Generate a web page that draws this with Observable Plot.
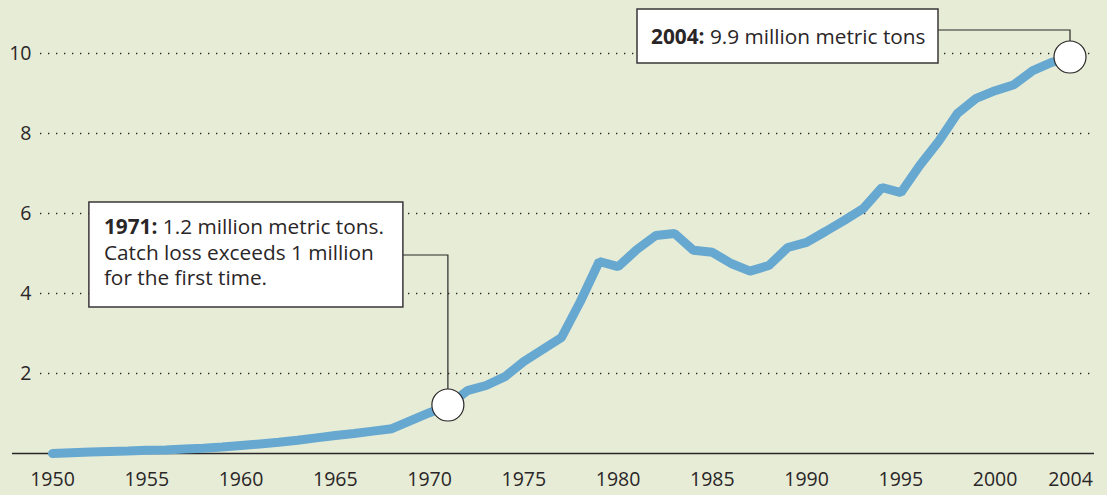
<!DOCTYPE html>
<html>
<head>
<meta charset="utf-8">
<script src="https://cdn.jsdelivr.net/npm/d3@7"></script>
<script src="https://cdn.jsdelivr.net/npm/@observablehq/plot@0.6"></script>
<style>
  html, body { margin: 0; padding: 0; background: #e7ecd7; }
  #chart { width: 1107px; height: 495px; }
  svg { font-family: "Open Sans", Lato, sans-serif; }
</style>
</head>
<body>
<div id="chart"></div>
<script>
const years = d3.range(1950, 2005);
const values = [
  0.00, 0.02, 0.04, 0.05, 0.06, 0.08, 0.09, 0.11, 0.13, 0.16,
  0.20, 0.24, 0.28, 0.33, 0.39, 0.45, 0.50, 0.56, 0.62, 0.82,
  1.02, 1.20, 1.57, 1.70, 1.92, 2.30, 2.60, 2.90, 3.80, 4.80,
  4.67, 5.10, 5.45, 5.50, 5.08, 5.03, 4.75, 4.56, 4.70, 5.15,
  5.28, 5.55, 5.83, 6.12, 6.65, 6.52, 7.20, 7.80, 8.50, 8.88,
  9.07, 9.22, 9.57, 9.78, 9.90
];
const xTicks = [1950, 1955, 1960, 1965, 1970, 1975, 1980, 1985, 1990, 1995, 2000, 2004];
const yTicks = [2, 4, 6, 8, 10];
const annotationYears = [1971, 2004];
const annotationBold = ["1971:", "2004:"];
const annotationLines = [
  [" 1.2 million metric tons.", "Catch loss exceeds 1 million", "for the first time."],
  [" 9.9 million metric tons"]
];

const data = years.map((y, i) => ({year: y, value: values[i]}));
const marks = annotationYears.map(y => data.find(d => d.year === y));

const ink = "#2a2627";
const font = "'Open Sans', Lato, sans-serif";
const plot = Plot.plot({
  width: 1107,
  height: 495,
  marginLeft: 52,
  marginRight: 37,
  marginTop: 53,
  marginBottom: 42,
  style: {background: "transparent", fontSize: "19.5px", fontFamily: font, color: ink},
  x: {domain: [1950, 2004], ticks: xTicks, tickFormat: d => String(d), label: null},
  y: {domain: [0, 10], ticks: yTicks, label: null},
  marks: [
    Plot.ruleY(yTicks, {stroke: ink, strokeWidth: 1.3, strokeDasharray: "1.3 6.7", insetLeft: -12, insetRight: -25}),
    Plot.ruleY([0], {stroke: ink, strokeWidth: 1.5, insetLeft: -40, insetRight: -24}),
    Plot.axisX({ticks: xTicks, tickSize: 0, tickPadding: 19, tickFormat: d => String(d), fontSize: 19.5, fill: ink}),
    Plot.axisY({ticks: yTicks, tickSize: 0, tickPadding: 21, fontSize: 19.5, fill: ink}),
    Plot.line(data, {x: "year", y: "value", stroke: "#67a8d0", strokeWidth: 9, strokeLinecap: "round", strokeLinejoin: "miter"})
  ]
});
document.getElementById("chart").appendChild(plot);

// annotations drawn with the library's scales
const sx = plot.scale("x"), sy = plot.scale("y");
const svg = d3.select(plot);
const boxes = [
  {dx1: -359, dx2: -45, dy1: -203, dy2: -98, elbow: -150, tx: -344, ty: -171},
  {dx1: -433, dx2: -132, dy1: -48, dy2: 6, elbow: -27, tx: -419, ty: -13}
];
const g = svg.append("g").attr("text-anchor", "start");
marks.forEach((m, i) => {
  const px = sx.apply(m.year), py = sy.apply(m.value);
  const b = boxes[i];
  const r = 16;
  g.append("path")
    .attr("d", `M${px + b.dx2},${py + b.elbow}H${px}V${py - r}`)
    .attr("fill", "none").attr("stroke", ink).attr("stroke-width", 1.2);
  g.append("rect")
    .attr("x", px + b.dx1).attr("y", py + b.dy1)
    .attr("width", b.dx2 - b.dx1).attr("height", b.dy2 - b.dy1)
    .attr("fill", "white").attr("stroke", "#3a3637").attr("stroke-width", 1.5);
  const t = g.append("text")
    .attr("x", px + b.tx).attr("y", py + b.ty)
    .attr("text-anchor", "start")
    .attr("fill", ink).style("font-size", "20.8px").style("font-family", font);
  annotationLines[i].forEach((line, j) => {
    if (j === 0) {
      t.append("tspan").attr("font-weight", "bold").text(annotationBold[i]);
      t.append("tspan").text(line);
    } else {
      t.append("tspan").attr("x", px + b.tx).attr("dy", "25.5").text(line);
    }
  });
  g.append("circle")
    .attr("cx", px).attr("cy", py).attr("r", r)
    .attr("fill", "white").attr("stroke", ink).attr("stroke-width", 1.2);
});
</script>
</body>
</html>
